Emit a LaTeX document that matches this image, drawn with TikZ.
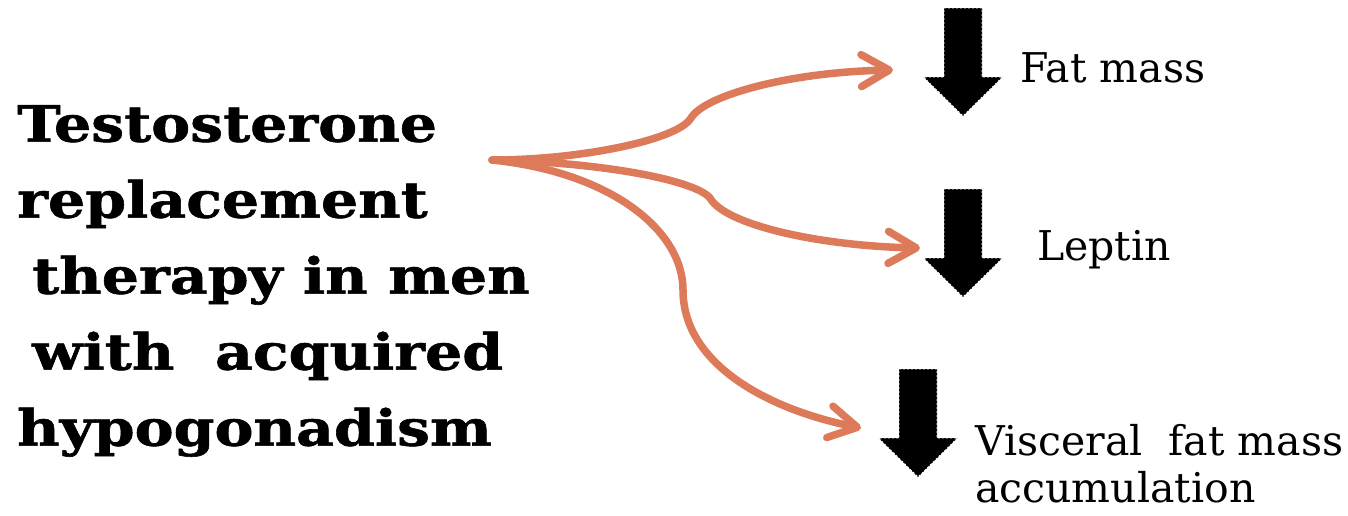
\documentclass[tikz,border=0pt]{standalone}
\usepackage{fontspec}
\setmainfont{DejaVu Serif}
\newfontfamily\titlefont[FakeStretch=1.17, FakeBold=1.2]{DejaVu Serif Bold}
\usetikzlibrary{arrows.meta,positioning,calc}
\definecolor{branchorange}{HTML}{DD7A5A}

\begin{document}
\begin{tikzpicture}[x=1pt, y=-1pt,
    title/.style={align=left, inner sep=0pt, anchor=north west,
                  font=\fontsize{50}{76}\titlefont},
    effect/.style={align=left, inner sep=0pt, anchor=base west,
                   font=\fontsize{41}{47}\selectfont},
    branch/.style={line width=7.5pt, branchorange, line cap=round,
                   -{Straight Barb[length=28pt, width=32pt, line width=7.5pt, round]}},
    down/.style={fill=black, draw=white, line width=0.8pt, dash pattern=on 2pt off 2pt}
]
    \useasboundingbox (0,0) rectangle (1348,515);

    \node[title] (trt) at (17,105) {Testosterone\\
        replacement\\
        \hspace*{15pt}therapy in men\\
        \hspace*{15pt}with\ \ acquired\\
        hypogonadism};

    % block arrows pointing down
    \foreach \name/\x/\y in {fat/963/8, lep/963/189, vis/918/369} {
        \draw[down] (\x-19,\y) -- (\x+19,\y) -- (\x+19,\y+69) -- (\x+39.5,\y+69)
            -- (\x,\y+108) -- (\x-39.5,\y+69) -- (\x-19,\y+69) -- cycle;
        \coordinate (\name) at (\x-39.5,\y+75);
    }

    \node[effect] (fatlbl) at (1020,82) {Fat mass};
    \node[effect] (leplbl) at (1037,260) {Leptin};
    \node[effect] (vislbl) at (975,502) {Visceral\ \ fat mass\\accumulation};

    \coordinate (src) at (492,160);
    \coordinate (fatend) at (893,70);
    \coordinate (lepend) at (920,248);
    \coordinate (visend) at (861,428);

    \draw[branch] (src) .. controls (580,160) and (678,140) .. (691,118)
        .. controls (705,95) and (790,72) .. (fatend);
    \draw[branch] (src) .. controls (600,162) and (695,180) .. (710,198)
        .. controls (725,225) and (820,246) .. (lepend);
    \draw[branch] (src) .. controls (610,172) and (683,230) .. (683,290)
        .. controls (683,365) and (770,410) .. (visend);
\end{tikzpicture}
\end{document}
